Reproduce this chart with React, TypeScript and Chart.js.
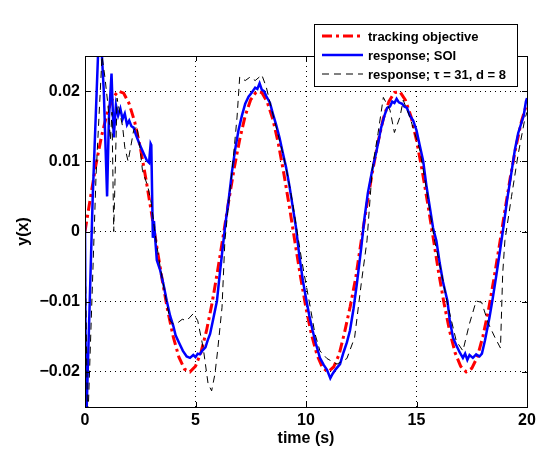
import { useEffect, useRef } from "react";
import { Chart, registerables } from "chart.js";

Chart.register(...registerables);

const FONT = 'Arial, "Liberation Sans", Helvetica, sans-serif';

const xTicks = [0, 5, 10, 15, 20];
const yTicks = [-0.02, -0.01, 0, 0.01, 0.02];
const yTickLabels = ["\u22120.02", "\u22120.01", "0", "0.01", "0.02"];

const seriesLabels = ["tracking objective", "response; SOI", "response; \u03c4 = 31, d = 8"];

// tracking objective
const objT = [0, 0.25, 0.5, 0.75, 1, 1.25, 1.5, 1.75, 2, 2.25, 2.5, 2.75, 3, 3.25, 3.5, 3.75, 4, 4.25, 4.5, 4.75, 5, 5.25, 5.5, 5.75, 6, 6.25, 6.5, 6.75, 7, 7.25, 7.5, 7.75, 8, 8.25, 8.5, 8.75, 9, 9.25, 9.5, 9.75, 10, 10.25, 10.5, 10.75, 11, 11.25, 11.5, 11.75, 12, 12.25, 12.5, 12.75, 13, 13.25, 13.5, 13.75, 14, 14.25, 14.5, 14.75, 15, 15.25, 15.5, 15.75, 16, 16.25, 16.5, 16.75, 17, 17.25, 17.5, 17.75, 18, 18.25, 18.5, 18.75, 19, 19.25, 19.5, 19.75, 20];
const objY = [0.0, 0.0049, 0.0096, 0.0136, 0.0168, 0.019, 0.02, 0.0197, 0.0182, 0.0156, 0.012, 0.0076, 0.0028, -0.0022, -0.007, -0.0114, -0.0151, -0.0179, -0.0196, -0.02, -0.0192, -0.0172, -0.0141, -0.0102, -0.0056, -0.0007, 0.0043, 0.009, 0.0131, 0.0165, 0.0188, 0.0199, 0.0198, 0.0184, 0.016, 0.0125, 0.0082, 0.0035, -0.0015, -0.0064, -0.0109, -0.0147, -0.0176, -0.0194, -0.02, -0.0193, -0.0175, -0.0143, -0.0107, -0.0066, -0.0013, 0.0037, 0.0084, 0.0126, 0.0161, 0.0185, 0.0198, 0.0199, 0.0187, 0.0164, 0.013, 0.0088, 0.0041, -0.0008, -0.0058, -0.0103, -0.0142, -0.0173, -0.0192, -0.02, -0.0195, -0.0179, -0.015, -0.0113, -0.0068, -0.002, 0.003, 0.0078, 0.0121, 0.0157, 0.0183];

// response; SOI
const soiT = [0, 0.05, 0.35, 0.6, 0.75, 0.85, 0.95, 1.0, 1.08, 1.2, 1.3, 1.4, 1.5, 1.6, 1.7, 1.8, 1.9, 2.0, 2.1, 2.2, 2.3, 2.4, 2.5, 2.6, 2.7, 2.8, 2.9, 2.97, 3.0, 3.07, 3.12, 3.2, 3.25, 3.4, 3.55, 3.7, 3.85, 4.0, 4.1, 4.25, 4.43, 4.6, 4.75, 4.9, 5.0, 5.1, 5.2, 5.3, 5.45, 5.55, 5.66, 5.8, 5.97, 6.1, 6.2, 6.35, 6.5, 6.65, 6.8, 6.95, 7.1, 7.25, 7.4, 7.55, 7.7, 7.8, 7.9, 8.0, 8.1, 8.2, 8.37, 8.5, 8.65, 8.8, 8.95, 9.1, 9.25, 9.4, 9.55, 9.7, 9.86, 10.0, 10.15, 10.3, 10.45, 10.63, 10.8, 10.95, 11.1, 11.2, 11.35, 11.54, 11.7, 11.85, 11.99, 12.15, 12.3, 12.5, 12.65, 12.8, 13.0, 13.2, 13.4, 13.55, 13.67, 13.8, 13.9, 14.0, 14.1, 14.2, 14.35, 14.45, 14.57, 14.7, 14.85, 15.0, 15.15, 15.3, 15.45, 15.6, 15.75, 15.9, 16.05, 16.2, 16.4, 16.5, 16.65, 16.8, 16.95, 17.1, 17.2, 17.3, 17.4, 17.55, 17.7, 17.85, 17.96, 18.1, 18.3, 18.45, 18.6, 18.78, 18.95, 19.1, 19.3, 19.45, 19.6, 19.75, 19.85, 19.95, 20.0];
const soiY = [0.001, -0.028, 0.005, 0.026, 0.026, 0.02, 0.01, 0.005, 0.016, 0.0225, 0.0134, 0.018, 0.0165, 0.0175, 0.016, 0.0168, 0.0152, 0.0158, 0.015, 0.0148, 0.0138, 0.013, 0.0122, 0.0115, 0.0108, 0.0101, 0.0098, 0.0125, 0.0123, -0.0009, 0.0015, -0.002, -0.0041, -0.0055, -0.0075, -0.0099, -0.012, -0.0135, -0.0148, -0.0158, -0.017, -0.0178, -0.018, -0.0176, -0.0179, -0.0174, -0.0175, -0.017, -0.0165, -0.0155, -0.0146, -0.0125, -0.0099, -0.006, -0.0032, 0.001, 0.0045, 0.0085, 0.0118, 0.0145, 0.0165, 0.0182, 0.0192, 0.0198, 0.0205, 0.0203, 0.0211, 0.0202, 0.02, 0.0193, 0.0183, 0.0168, 0.0152, 0.0134, 0.0112, 0.0091, 0.0065, 0.0035, 0.0005, -0.0035, -0.007, -0.0095, -0.012, -0.0141, -0.016, -0.018, -0.019, -0.0197, -0.0209, -0.0203, -0.0196, -0.0189, -0.0172, -0.0158, -0.0141, -0.011, -0.0075, -0.0023, 0.002, 0.0055, 0.0088, 0.0116, 0.0148, 0.0165, 0.0176, 0.0178, 0.0185, 0.0183, 0.0189, 0.0184, 0.0182, 0.0178, 0.0176, 0.0165, 0.0158, 0.0144, 0.0122, 0.0101, 0.0065, 0.0035, 0.0005, -0.0013, -0.0045, -0.0072, -0.0099, -0.0125, -0.0151, -0.0162, -0.0172, -0.018, -0.0174, -0.0183, -0.0176, -0.018, -0.0175, -0.0178, -0.0174, -0.0155, -0.0123, -0.0095, -0.0065, -0.0027, 0.001, 0.0045, 0.0085, 0.0116, 0.014, 0.0155, 0.0165, 0.0185, 0.019];

// response; tau = 31, d = 8
const tauT = [0, 0.12, 0.5, 0.77, 0.9, 1.04, 1.15, 1.22, 1.3, 1.45, 1.6, 1.7, 1.8, 1.95, 2.1, 2.2, 2.35, 2.5, 2.6, 2.85, 3.0, 3.2, 3.4, 3.6, 3.85, 4.0, 4.2, 4.4, 4.6, 4.75, 4.9, 5.1, 5.35, 5.57, 5.73, 5.88, 6.0, 6.2, 6.33, 6.5, 6.7, 6.88, 7.0, 7.25, 7.47, 7.7, 8.0, 8.2, 8.4, 8.6, 8.8, 9.0, 9.2, 9.4, 9.6, 9.8, 10.0, 10.2, 10.4, 10.63, 10.95, 11.4, 11.85, 12.2, 12.5, 12.76, 13.0, 13.26, 13.5, 13.8, 14.0, 14.25, 14.4, 14.7, 15.15, 15.4, 15.6, 15.8, 16.0, 16.2, 16.4, 16.8, 17.1, 17.4, 17.7, 17.95, 18.25, 18.55, 18.8, 18.9, 19.0, 19.3, 19.6, 19.9, 20.0];
const tauY = [-0.001, -0.028, 0.008, 0.025, 0.022, 0.018, 0.013, 0.017, 0.0, 0.019, 0.0165, 0.015, 0.012, 0.01, 0.0126, 0.0144, 0.015, 0.0116, 0.0087, 0.0063, 0.004, -0.001, -0.005, -0.0085, -0.0127, -0.0132, -0.013, -0.0125, -0.0127, -0.0122, -0.0117, -0.0127, -0.0166, -0.0217, -0.0227, -0.0203, -0.017, -0.0108, -0.0013, 0.004, 0.0101, 0.0163, 0.022, 0.0215, 0.022, 0.0215, 0.0223, 0.0206, 0.018, 0.0155, 0.013, 0.0105, 0.0075, 0.004, 0.0, -0.004, -0.0075, -0.0109, -0.0145, -0.017, -0.0181, -0.0189, -0.0181, -0.0151, -0.0074, -0.0013, 0.009, 0.014, 0.0191, 0.0173, 0.0141, 0.0163, 0.0187, 0.0163, 0.0116, 0.007, 0.003, -0.001, -0.004, -0.007, -0.0103, -0.0156, -0.017, -0.0131, -0.0099, -0.0101, -0.0131, -0.0151, -0.0166, -0.006, -0.0013, 0.005, 0.011, 0.016, 0.017];

const toPts = (ts: number[], ys: number[]) => ts.map((t, i) => ({ x: t, y: ys[i] }));

const styles = [
  { color: "#ff0000", width: 3, dash: [10, 4, 3, 4] },
  { color: "#0000ff", width: 2.5, dash: [] as number[] },
  { color: "#000000", width: 1, dash: [7, 5] },
];

const framePlugin = {
  id: "frame",
  afterDatasetsDraw(chart: any) {
    const { ctx, chartArea } = chart;
    const { left, right, top, bottom } = chartArea;
    const xs = chart.scales.x;
    const ys = chart.scales.y;
    ctx.save();
    ctx.setLineDash([]);
    ctx.strokeStyle = "#000";
    ctx.lineWidth = 1;
    const tl = 5;
    ctx.beginPath();
    xTicks.forEach((v) => {
      const px = Math.round(xs.getPixelForValue(v)) + 0.5;
      ctx.moveTo(px, bottom);
      ctx.lineTo(px, bottom - tl);
      ctx.moveTo(px, top);
      ctx.lineTo(px, top + tl);
    });
    yTicks.forEach((v) => {
      const py = Math.round(ys.getPixelForValue(v)) + 0.5;
      ctx.moveTo(left, py);
      ctx.lineTo(left + tl, py);
      ctx.moveTo(right, py);
      ctx.lineTo(right - tl, py);
    });
    ctx.stroke();
    ctx.strokeRect(Math.round(left) + 0.5, Math.round(top) + 0.5, Math.round(right - left), Math.round(bottom - top));

    // legend
    const lx = 314, ly = 24, lw = 203, lh = 62;
    ctx.fillStyle = "#fff";
    ctx.fillRect(lx, ly, lw, lh);
    ctx.strokeRect(lx + 0.5, ly + 0.5, lw, lh);
    ctx.font = `bold 13px ${FONT}`;
    ctx.textBaseline = "middle";
    ctx.textAlign = "left";
    seriesLabels.forEach((lab, i) => {
      const y = ly + 12 + i * 19;
      const st = styles[i];
      ctx.save();
      ctx.strokeStyle = st.color;
      ctx.lineWidth = st.width;
      ctx.setLineDash(st.dash);
      ctx.beginPath();
      ctx.moveTo(lx + 8, y);
      ctx.lineTo(lx + 49, y);
      ctx.stroke();
      ctx.restore();
      ctx.fillStyle = "#000";
      ctx.fillText(lab, lx + 54, y + 1);
    });
    ctx.restore();
  },
};

export default function App() {
  const ref = useRef<HTMLCanvasElement>(null);
  useEffect(() => {
    const series = [toPts(objT, objY), toPts(soiT, soiY), toPts(tauT, tauY)];
    const chart = new Chart(ref.current!, {
      type: "line",
      data: {
        datasets: series.map((d, i) => ({
          label: seriesLabels[i],
          data: d,
          borderColor: styles[i].color,
          borderWidth: styles[i].width,
          borderDash: styles[i].dash,
          pointRadius: 0,
          tension: 0,
          fill: false,
          order: 3 - i,
        })),
      },
      options: {
        responsive: false,
        animation: false,
        layout: { padding: { top: 56, right: 25, left: 0, bottom: 0 } },
        plugins: { legend: { display: false }, tooltip: { enabled: false } },
        scales: {
          x: {
            type: "linear",
            min: 0,
            max: 20,
            afterBuildTicks: (s: any) => {
              s.ticks = xTicks.map((v) => ({ value: v }));
            },
            afterFit: (s: any) => {
              s.height = 63;
            },
            ticks: {
              color: "#000",
              font: { family: FONT, size: 16, weight: "bold" },
              padding: 4,
              maxRotation: 0,
              autoSkip: false,
            },
            grid: { color: "#000", lineWidth: 1, drawTicks: false },
            border: { display: false, dash: [1, 4] },
            title: {
              display: true,
              text: "time (s)",
              color: "#000",
              font: { family: FONT, size: 16, weight: "bold" },
              padding: { top: 0, bottom: 22 },
            },
          },
          y: {
            type: "linear",
            min: -0.025,
            max: 0.025,
            afterBuildTicks: (s: any) => {
              s.ticks = yTicks.map((v) => ({ value: v }));
            },
            afterFit: (s: any) => {
              s.width = 85;
            },
            ticks: {
              color: "#000",
              font: { family: FONT, size: 16, weight: "bold" },
              padding: 5,
              autoSkip: false,
              callback: (_v: any, i: number) => yTickLabels[i],
            },
            grid: { color: "#000", lineWidth: 1, drawTicks: false },
            border: { display: false, dash: [1, 4] },
            title: {
              display: true,
              text: "y(x)",
              color: "#000",
              font: { family: FONT, size: 16, weight: "bold" },
              padding: { top: 14, bottom: 0 },
            },
          },
        },
      },
      plugins: [framePlugin],
    } as any);
    return () => chart.destroy();
  }, []);
  return (
    <div style={{ position: "absolute", left: 0, top: 0, width: 552, height: 470, background: "#fff" }}>
      <canvas ref={ref} width={552} height={470} style={{ display: "block" }} />
    </div>
  );
}
